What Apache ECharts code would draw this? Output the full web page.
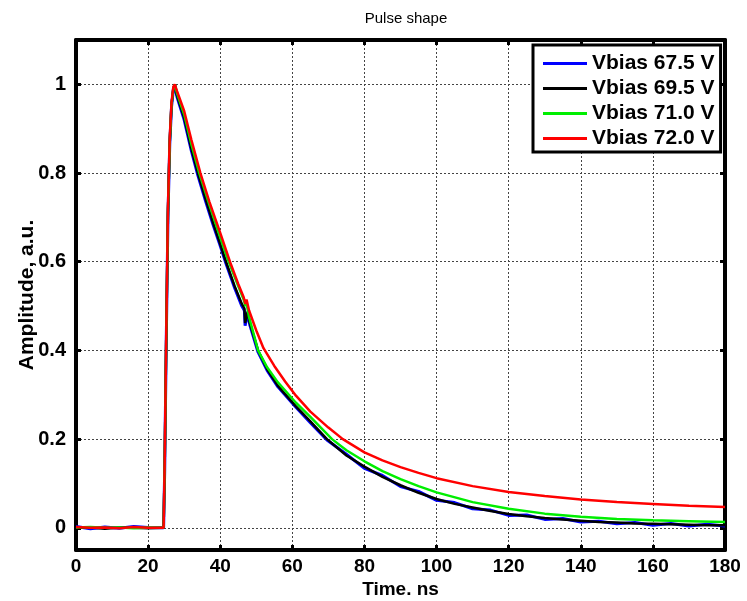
<!DOCTYPE html>
<html>
<head>
<meta charset="utf-8">
<script src="https://cdn.jsdelivr.net/npm/echarts@6/dist/echarts.min.js"></script>
<style>html,body{margin:0;padding:0;background:#fff}#chart{width:747px;height:601px}</style>
</head>
<body>
<div id="chart"></div>
<script>
// ---- data ----
const seriesNames = ['Vbias 67.5 V', 'Vbias 69.5 V', 'Vbias 71.0 V', 'Vbias 72.0 V'];
const xTicks = [0, 20, 40, 60, 80, 100, 120, 140, 160, 180];
const yTicks = [0, 0.2, 0.4, 0.6, 0.8, 1];

const tRed = [0,4,8,12,16,20,24.3,24.6,25.0,25.5,26.0,26.5,27.0,27.4,28,30,32,34.5,37,40,42.7,45,46.5,47.0,47.3,48,50,52,55,58,61,65,70,74,80,85,90,95,100,110,120,130,140,150,160,170,180];
const aRed = [0.002,0.0,0.001,-0.001,0.002,0.0,0.0,0.15,0.42,0.72,0.88,0.96,0.995,1.0,0.985,0.94,0.875,0.80,0.735,0.665,0.60,0.55,0.52,0.505,0.515,0.49,0.445,0.405,0.365,0.33,0.298,0.262,0.226,0.20,0.17,0.152,0.137,0.124,0.112,0.094,0.081,0.072,0.064,0.058,0.054,0.050,0.047];

const tGreen = [0,4,8,12,16,20,24.3,24.6,25.0,25.5,26.0,26.5,27.0,27.4,28,30,32,34.2,37,40,42,45,46.5,47.0,47.3,48,50.5,53,56,61,65,71,75,80,85,90,95,100,110,120,130,140,150,160,170,180];
const aGreen = [0.001,0.002,0.0,0.001,-0.001,0.001,0.0,0.14,0.41,0.71,0.87,0.955,0.99,1.0,0.98,0.932,0.865,0.80,0.728,0.655,0.607,0.545,0.515,0.50,0.507,0.475,0.40,0.362,0.328,0.282,0.25,0.20,0.175,0.15,0.128,0.11,0.094,0.08,0.058,0.043,0.032,0.025,0.02,0.017,0.015,0.013];

const tBlack = [0,4,8,12,16,20,24.3,24.6,25.0,25.5,26.0,26.5,27.0,27.4,28,30,32,33.8,36,38,40,41.6,44,46,46.7,46.9,47.3,47.6,48.2,50.5,53,56,61,65,69.6,75,80,85,90,95,100,105,110,115,120,125,130,135,140,145,150,155,160,165,170,175,180];
const aBlack = [0.0,0.001,-0.002,0.001,0.0,-0.001,0.0,0.14,0.41,0.71,0.87,0.955,0.99,1.0,0.975,0.925,0.855,0.80,0.74,0.688,0.64,0.60,0.545,0.505,0.495,0.462,0.466,0.488,0.462,0.40,0.358,0.32,0.274,0.24,0.20,0.163,0.138,0.115,0.096,0.079,0.065,0.054,0.046,0.038,0.031,0.026,0.022,0.019,0.016,0.013,0.012,0.010,0.009,0.008,0.007,0.006,0.006];

const tBlue = tBlack;
const aBlue = [0.003,-0.002,0.002,-0.001,0.003,0.001,0.0,0.13,0.40,0.70,0.865,0.95,0.988,0.998,0.972,0.92,0.85,0.795,0.735,0.684,0.636,0.596,0.541,0.50,0.49,0.456,0.46,0.484,0.458,0.396,0.355,0.318,0.272,0.237,0.198,0.166,0.134,0.118,0.093,0.082,0.062,0.057,0.043,0.040,0.028,0.029,0.019,0.021,0.013,0.015,0.009,0.012,0.006,0.010,0.004,0.008,0.004];

// ---- build ----
function zip(t, a) { return t.map((v, i) => [v, a[i]]); }
const seriesData = [zip(tBlue, aBlue), zip(tBlack, aBlack), zip(tGreen, aGreen), zip(tRed, aRed)];
const colors = ['#0000ff', '#000000', '#00ee00', '#ff0000'];
const widths = [3, 2.5, 2.5, 2.5];

const FONT = "'Liberation Sans', Arial, Helvetica, sans-serif";
const chart = echarts.init(document.getElementById('chart'), null, { renderer: 'canvas' });

const xBase = {
  type: 'value', min: xTicks[0], max: xTicks[xTicks.length - 1], interval: 20,
  axisLine: { show: true, onZero: false, lineStyle: { color: '#000', width: 4 } },
  axisTick: { show: true, inside: true, length: 5, lineStyle: { color: '#000', width: 3 } }
};
const yBase = {
  type: 'value', min: -0.05, max: 1.1, minInterval: 0.2, maxInterval: 0.2, splitNumber: 6,
  axisLine: { show: true, onZero: false, lineStyle: { color: '#000', width: 4 } },
  axisTick: { show: true, inside: true, length: 5, lineStyle: { color: '#000', width: 3 } }
};
const gridLine = { show: true, lineStyle: { color: '#444', width: 1, type: [2, 2] } };

chart.setOption({
  animation: false,
  backgroundColor: '#fff',
  title: {
    text: 'Pulse shape', left: 401, top: 6, textAlign: 'center',
    textStyle: { fontFamily: FONT, fontSize: 15, fontWeight: 'normal', color: '#000' }
  },
  grid: { left: 76, right: 22, top: 40, bottom: 51, containLabel: false, outerBoundsMode: 'none' },
  legend: {
    data: seriesNames.map((n, i) => ({ name: n, icon: 'rect', itemStyle: { color: colors[i] } })),
    orient: 'vertical', left: 533, top: 45,
    padding: [8, 6, 3, 10], itemWidth: 44, itemHeight: 3, itemGap: 4,
    backgroundColor: '#fff', borderColor: '#000', borderWidth: 3,
    textStyle: { fontFamily: FONT, fontSize: 21, fontWeight: 'bold', color: '#000', padding: [0, 0, 0, 0] }
  },
  xAxis: [
    Object.assign({}, xBase, {
      position: 'bottom', name: 'Time. ns', nameLocation: 'middle', nameGap: 30, nameMoveOverlap: false,
      nameTextStyle: { fontFamily: FONT, fontSize: 19, fontWeight: 'bold', color: '#000' },
      axisLabel: { margin: 7, fontFamily: FONT, fontSize: 19, fontWeight: 'bold', color: '#000' },
      splitLine: gridLine
    }),
    Object.assign({}, xBase, { position: 'top', axisLabel: { show: false }, splitLine: { show: false } })
  ],
  yAxis: [
    Object.assign({}, yBase, {
      position: 'left', name: 'Amplitude, a.u.', nameLocation: 'middle', nameGap: 38, nameMoveOverlap: false,
      nameTextStyle: { fontFamily: FONT, fontSize: 21, fontWeight: 'bold', color: '#000' },
      axisLabel: { margin: 10, showMinLabel: false, showMaxLabel: false, fontFamily: FONT, fontSize: 20, fontWeight: 'bold', color: '#000',
        formatter: v => (yTicks.some(t => Math.abs(t - v) < 1e-9) ? String(+v.toFixed(1)) : '') },
      splitLine: gridLine
    }),
    Object.assign({}, yBase, { position: 'right', axisLabel: { show: false }, splitLine: { show: false } })
  ],
  series: seriesNames.map((n, i) => ({
    name: n, type: 'line', data: seriesData[i], xAxisIndex: 0, yAxisIndex: 0,
    symbol: 'none', showSymbol: false, smooth: false,
    lineStyle: { color: colors[i], width: widths[i] }, itemStyle: { color: colors[i] },
    z: 2 + i
  }))
});
</script>
</body>
</html>
